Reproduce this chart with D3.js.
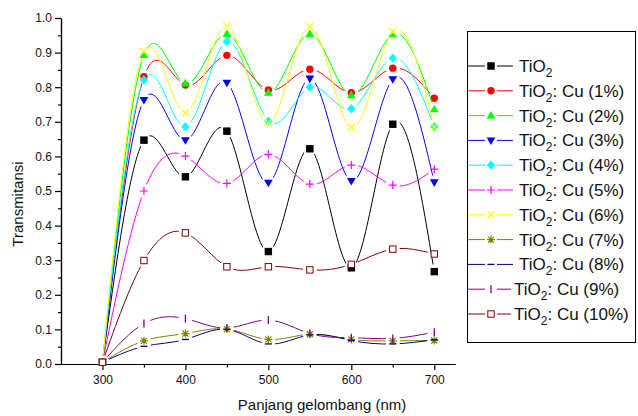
<!DOCTYPE html>
<html>
<head>
<meta charset="utf-8">
<script src="https://cdn.jsdelivr.net/npm/d3@7/dist/d3.min.js"></script>
<style>
	body { margin: 0; background: #fff; }
	text { font-family: "Liberation Sans", Arial, sans-serif; }
</style>
</head>
<body>
<div id="chart"></div>
<script>
// settings
var svgWidth = 638;
var svgHeight = 416;
var gapRadius = 7;

var margin = { top: 18, left: 61, right: 183, bottom: 52 };

// data
var wavelength = [300, 350, 400, 450, 500, 550, 600, 650, 700];
var tio2 = [0.005, 0.647, 0.541, 0.673, 0.325, 0.622, 0.278, 0.693, 0.267];
var cu1 = [0.005, 0.830, 0.806, 0.892, 0.792, 0.852, 0.784, 0.855, 0.768];
var cu2 = [0.005, 0.893, 0.811, 0.954, 0.784, 0.954, 0.777, 0.953, 0.736];
var cu3 = [0.005, 0.763, 0.647, 0.813, 0.524, 0.825, 0.529, 0.823, 0.525];
var cu4 = [0.005, 0.821, 0.686, 0.932, 0.702, 0.800, 0.738, 0.884, 0.686];
var cu5 = [0.005, 0.500, 0.601, 0.522, 0.606, 0.520, 0.575, 0.517, 0.563];
var cu6 = [0.005, 0.903, 0.726, 0.977, 0.697, 0.975, 0.684, 0.960, 0.685];
var cu7 = [0.005, 0.067, 0.088, 0.101, 0.071, 0.086, 0.071, 0.067, 0.068];
var cu8 = [0.005, 0.051, 0.071, 0.100, 0.058, 0.084, 0.068, 0.058, 0.070];
var cu9 = [0.005, 0.117, 0.131, 0.104, 0.127, 0.088, 0.076, 0.074, 0.092];
var cu10 = [0.005, 0.299, 0.379, 0.281, 0.281, 0.272, 0.288, 0.332, 0.318];

var seriesLabels = ["", "1%", "2%", "3%", "4%", "5%", "6%", "7%", "8%", "9%", "10%"];
var seriesValues = [tio2, cu1, cu2, cu3, cu4, cu5, cu6, cu7, cu8, cu9, cu10];
var seriesColors = ["#000000", "#ff0000", "#00ff00", "#0000ff", "#00ffff", "#ff00ff",
	"#ffff00", "#808000", "#000080", "#800080", "#800000"];
var seriesMarkers = ["square", "circle", "triUp", "triDown", "diamond", "plus",
	"cross", "star", "dash", "bar", "openSquare"];

var xTicks = [300, 400, 500, 600, 700];

var svg = d3.select("#chart").append("svg")
	.attr("width", svgWidth)
	.attr("height", svgHeight);

var x = d3.scaleLinear().domain([250, 725]).range([margin.left, margin.left + 394]);
var y = d3.scaleLinear().domain([0, 1]).range([364, 18]);

// draw one marker of the given kind centred at (cx, cy)
function drawMarker(g, kind, color, cx, cy) {
	var s = 3.2;
	if (kind === "square" || kind === "openSquare")
		g.append("rect").attr("x", cx - s).attr("y", cy - s).attr("width", 2 * s).attr("height", 2 * s)
			.attr("fill", kind === "square" ? color : "#fff").attr("stroke", color).attr("stroke-width", 1);
	else if (kind === "circle")
		g.append("circle").attr("cx", cx).attr("cy", cy).attr("r", 3.7).attr("fill", color);
	else if (kind === "triUp")
		g.append("path").attr("d", `M${cx},${cy - 4.6}L${cx + 4.4},${cy + 3}L${cx - 4.4},${cy + 3}Z`).attr("fill", color);
	else if (kind === "triDown")
		g.append("path").attr("d", `M${cx},${cy + 4.6}L${cx + 4.4},${cy - 3}L${cx - 4.4},${cy - 3}Z`).attr("fill", color);
	else if (kind === "diamond")
		g.append("path").attr("d", `M${cx},${cy - 4.6}L${cx + 4.2},${cy}L${cx},${cy + 4.6}L${cx - 4.2},${cy}Z`).attr("fill", color);
	else if (kind === "plus")
		g.append("path").attr("d", `M${cx - 4},${cy}H${cx + 4}M${cx},${cy - 4}V${cy + 4}`).attr("stroke", color).attr("stroke-width", 1.2);
	else if (kind === "cross")
		g.append("path").attr("d", `M${cx - 3.6},${cy - 3.6}L${cx + 3.6},${cy + 3.6}M${cx + 3.6},${cy - 3.6}L${cx - 3.6},${cy + 3.6}`).attr("stroke", color).attr("stroke-width", 1.2);
	else if (kind === "star")
		g.append("path").attr("d", `M${cx - 4},${cy}H${cx + 4}M${cx},${cy - 4}V${cy + 4}M${cx - 3},${cy - 3}L${cx + 3},${cy + 3}M${cx + 3},${cy - 3}L${cx - 3},${cy + 3}`).attr("stroke", color).attr("stroke-width", 1.2);
	else if (kind === "dash")
		g.append("path").attr("d", `M${cx - 3.5},${cy}H${cx + 3.5}`).attr("stroke", color).attr("stroke-width", 1.3);
	else if (kind === "bar")
		g.append("path").attr("d", `M${cx},${cy - 4}V${cy + 4}`).attr("stroke", color).attr("stroke-width", 1.3);
}

// axes
var leftAxis = d3.axisLeft(y).tickValues(d3.range(0, 1.001, 0.1)).tickFormat(d3.format(".1f"))
	.tickSizeInner(6).tickSizeOuter(0).tickPadding(3);
var leftMinor = d3.axisLeft(y).tickValues(d3.range(0.05, 1, 0.1)).tickFormat("")
	.tickSizeInner(3).tickSizeOuter(0);
var bottomAxis = d3.axisBottom(x).tickValues(xTicks).tickFormat(d3.format("d"))
	.tickSizeInner(6).tickSizeOuter(0).tickPadding(5);
var bottomMinor = d3.axisBottom(x).tickValues([350, 450, 550, 650]).tickFormat("")
	.tickSizeInner(3.5).tickSizeOuter(0);

[svg.append("g").attr("transform", `translate(${margin.left},0)`).call(leftAxis),
svg.append("g").attr("transform", `translate(${margin.left},0)`).call(leftMinor),
svg.append("g").attr("transform", "translate(0,364)").call(bottomAxis),
svg.append("g").attr("transform", "translate(0,364)").call(bottomMinor)].forEach(function (a) {
	a.selectAll("path.domain").attr("stroke", "#000").attr("stroke-width", 1.2);
	a.selectAll("line").attr("stroke", "#000").attr("stroke-width", 1.2);
	a.selectAll("text").attr("font-size", "12px").attr("fill", "#111")
		.style("font-family", "'Liberation Sans', Arial, sans-serif");
});

// axis titles
svg.append("text")
	.attr("x", 322).attr("y", 410)
	.attr("text-anchor", "middle").attr("font-size", "15px").attr("fill", "#111")
	.text("Panjang gelombang (nm)");
svg.append("text")
	.attr("transform", "translate(23,204) rotate(-90)")
	.attr("text-anchor", "middle").attr("font-size", "15px").attr("fill", "#111")
	.text("Transmitansi");

// series lines (spline) with gaps around the markers, then markers
var line = d3.line().curve(d3.curveNatural)
	.x(function (d, i) { return x(wavelength[i]); })
	.y(function (d) { return y(d); });

var defs = svg.append("defs");
seriesValues.forEach(function (vals, k) {
	var mask = defs.append("mask").attr("id", "gap" + k)
		.attr("maskUnits", "userSpaceOnUse")
		.attr("x", 0).attr("y", 0).attr("width", svgWidth).attr("height", svgHeight);
	mask.append("rect").attr("width", svgWidth).attr("height", svgHeight).attr("fill", "#fff");
	vals.forEach(function (v, i) {
		mask.append("circle").attr("cx", x(wavelength[i])).attr("cy", y(v)).attr("r", gapRadius).attr("fill", "#000");
	});
	svg.append("path")
		.datum(vals)
		.attr("d", line)
		.attr("fill", "none")
		.attr("stroke", seriesColors[k])
		.attr("stroke-width", 1)
		.attr("mask", "url(#gap" + k + ")");
	var mg = svg.append("g");
	vals.forEach(function (v, i) {
		drawMarker(mg, seriesMarkers[k], seriesColors[k], x(wavelength[i]), y(v));
	});
});

// legend
var legend = svg.append("g");
legend.append("rect")
	.attr("x", 467.5).attr("y", 31.5).attr("width", 168).attr("height", 311)
	.attr("fill", "#fff").attr("stroke", "#000").attr("stroke-width", 1);

seriesLabels.forEach(function (lab, k) {
	var ly = 66 + k * 24.8;
	var short = k >= 9;
	var mx = 491;
	var lineEnd = short ? 511 : 513;
	legend.append("path")
		.attr("d", `M468,${ly}H${mx - 6}M${mx + 6},${ly}H${lineEnd}`)
		.attr("stroke", seriesColors[k]).attr("stroke-width", 1);
	drawMarker(legend, seriesMarkers[k], seriesColors[k], mx, ly);
	var t = legend.append("text")
		.attr("x", short ? 514 : 519).attr("y", ly + 6)
		.attr("font-size", "17px").attr("fill", "#111");
	t.append("tspan").text("TiO");
	t.append("tspan").attr("font-size", "12px").attr("dy", 5).text("2");
	if (lab !== "") t.append("tspan").attr("dy", -5).text(": Cu (" + lab + ")");
});
</script>
</body>
</html>
